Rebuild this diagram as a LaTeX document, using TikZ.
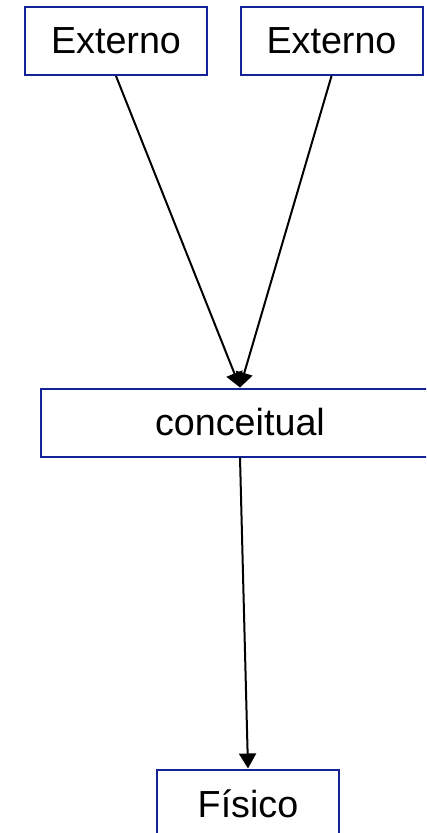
\documentclass[tikz,border=0pt]{standalone}
\usepackage{fontspec}
\setmainfont{Liberation Sans}
\usetikzlibrary{arrows.meta}
\definecolor{azulcaixa}{RGB}{20,35,150}
\tikzset{caixa/.style={draw=azulcaixa,line width=2pt,minimum height=68pt,inner sep=0pt,font=\fontsize{37.7}{40}\selectfont},
         seta/.style={->,line width=2pt}}
\begin{document}
\begin{tikzpicture}[x=1pt,y=-1pt,>={Triangle[length=15pt,width=17pt]}]
                \useasboundingbox (0,0) rectangle (426,833);
                \clip (0,0) rectangle (426,833);
                \node[caixa,minimum width=182pt] (ext1) at (116,41) {Externo};
                \node[caixa,minimum width=182pt] (ext2) at (331.5,41) {Externo};
                \node[caixa,minimum width=398pt] (conc) at (240,422.5) {conceitual};
                \node[caixa,minimum width=182pt] (fis) at (248,803.5) {Físico};
                \draw[seta] (ext1.south) -- (conc.north);
                \draw[seta] (ext2.south) -- (conc.north);
                \draw[seta] (conc.south) -- (fis.north);
            \end{tikzpicture}
\end{document}
